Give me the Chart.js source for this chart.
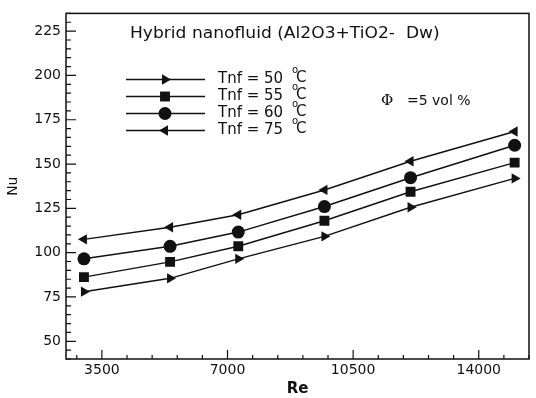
<!DOCTYPE html>
<html>
<head>
<meta charset="utf-8">
<script src="https://cdn.jsdelivr.net/npm/chart.js@4.4.1/dist/chart.umd.min.js"></script>
<style>
  html, body { margin: 0; padding: 0; background: #fff; }
</style>
</head>
<body>
<canvas id="nuChart" width="536" height="398"></canvas>
<script>
// values
const reValues = [3000, 5400, 7300, 9700, 12100, 15000];
const nu50 = [78, 85.5, 96.5, 109.2, 125.6, 141.9];
const nu55 = [86.2, 94.8, 103.6, 118, 134.4, 150.8];
const nu60 = [96.5, 103.6, 111.6, 126, 142.3, 160.6];
const nu75 = [107.5, 114.3, 121.4, 135.4, 151.6, 168.4];
const seriesLabels = ['Tnf = 50', 'Tnf = 55', 'Tnf = 60', 'Tnf = 75'];
const xTicks = [3500, 7000, 10500, 14000];
const yTicks = [50, 75, 100, 125, 150, 175, 200, 225];

const ink = '#111';

function toPoints(ys) {
    return reValues.map((re, i) => ({ x: re, y: ys[i] }));
}

function makeSet(label, ys, style, rotation, radius) {
    return {
        label: label,
        data: toPoints(ys),
        borderColor: ink,
        backgroundColor: ink,
        borderWidth: 1.5,
        pointStyle: style,
        rotation: rotation,
        pointRadius: radius,
        pointBorderWidth: 0,
        pointBackgroundColor: ink,
        tension: 0
    };
}

function stretchText(ctx, text, x, y, sx) {
    ctx.save();
    ctx.translate(x, y);
    ctx.scale(sx, 1);
    ctx.fillText(text, 0, 0);
    ctx.restore();
}

// frame, inward ticks, in-plot legend and notes
const frameAndNotes = {
    id: 'frameAndNotes',
    afterDraw(chart) {
        const { ctx, chartArea: a, scales: { x, y } } = chart;
        ctx.save();
        ctx.strokeStyle = ink;
        ctx.fillStyle = ink;
        ctx.lineWidth = 1.5;
        ctx.strokeRect(a.left, a.top, a.right - a.left, a.bottom - a.top);

        ctx.lineWidth = 1.2;
        ctx.beginPath();
        for (let v = 40; v <= 235; v += 5) {
            const py = y.getPixelForValue(v);
            const len = yTicks.includes(v) ? 10 : 5;
            ctx.moveTo(a.left, py);
            ctx.lineTo(a.left + len, py);
        }
        for (let v = 2800; v <= 15400; v += 700) {
            const px = x.getPixelForValue(v);
            const len = xTicks.includes(v) ? 9 : 4;
            ctx.moveTo(px, a.bottom);
            ctx.lineTo(px, a.bottom - len);
        }
        ctx.stroke();

        // title inside the plot
        ctx.textBaseline = 'middle';
        ctx.textAlign = 'left';
        ctx.font = '15px "DejaVu Sans"';
        stretchText(ctx, 'Hybrid nanofluid (Al2O3+TiO2-  Dw)', 130, 34, 1.14);

        // legend
        chart.data.datasets.forEach((ds, i) => {
            const ry = 79.5 + i * 17;
            ctx.lineWidth = 1.5;
            ctx.beginPath();
            ctx.moveTo(126, ry);
            ctx.lineTo(205, ry);
            ctx.stroke();
            Chart.helpers.drawPoint(ctx, {
                pointStyle: ds.pointStyle,
                rotation: ds.rotation,
                radius: ds.pointRadius,
                borderWidth: 0
            }, 165, ry);
            ctx.font = '15px "DejaVu Sans"';
            ctx.fillText(ds.label, 218, ry);
            ctx.font = '10px "DejaVu Sans"';
            ctx.fillText('o', 292, ry - 9);
            ctx.font = '15px "DejaVu Sans"';
            ctx.fillText('C', 296, ry - 1);
        });

        ctx.font = '15px "DejaVu Serif"';
        ctx.fillText('Φ', 381, 101);
        ctx.font = '14px "DejaVu Sans"';
        ctx.fillText('=5 vol %', 407, 101);
        ctx.restore();
    }
};

new Chart(document.getElementById('nuChart'), {
    type: 'line',
    data: {
        datasets: [
            makeSet(seriesLabels[0], nu50, 'triangle', 90, 6),
            makeSet(seriesLabels[1], nu55, 'rect', 0, 7),
            makeSet(seriesLabels[2], nu60, 'circle', 0, 6.5),
            makeSet(seriesLabels[3], nu75, 'triangle', 270, 6)
        ]
    },
    options: {
        responsive: false,
        animation: false,
        devicePixelRatio: 1,
        layout: { padding: { top: 10, right: 1, left: 0, bottom: 0 } },
        plugins: {
            legend: { display: false },
            tooltip: { enabled: false }
        },
        scales: {
            x: {
                type: 'linear',
                min: 2500,
                max: 15400,
                afterBuildTicks: (s) => { s.ticks = xTicks.map(v => ({ value: v })); },
                afterFit: (s) => { s.height = 39; },
                grid: { display: false, drawTicks: false },
                border: { display: false },
                ticks: {
                    padding: 3,
                    color: ink,
                    maxRotation: 0,
                    callback: (v) => String(v),
                    font: { family: 'DejaVu Sans', size: 14 }
                },
                title: {
                    display: true,
                    text: 'Re',
                    color: ink,
                    padding: { top: 0, bottom: 0 },
                    font: { family: 'DejaVu Sans', size: 15, weight: 'bold' }
                }
            },
            y: {
                min: 40,
                max: 235,
                afterBuildTicks: (s) => { s.ticks = yTicks.map(v => ({ value: v })); },
                afterFit: (s) => { s.width = 66; },
                grid: { display: false, drawTicks: false },
                border: { display: false },
                ticks: {
                    padding: 5,
                    color: ink,
                    callback: (v) => String(v),
                    font: { family: 'DejaVu Sans', size: 14 }
                },
                title: {
                    display: true,
                    text: 'Nu',
                    color: ink,
                    padding: { top: 5, bottom: 0 },
                    font: { family: 'DejaVu Sans', size: 14 }
                }
            }
        }
    },
    plugins: [frameAndNotes]
});
</script>
</body>
</html>
